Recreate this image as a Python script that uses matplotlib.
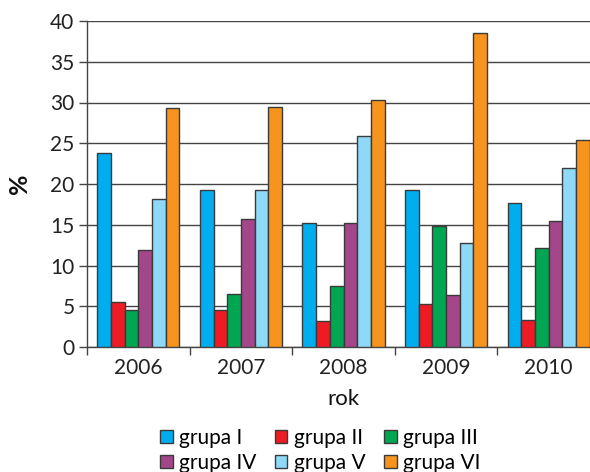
import matplotlib
matplotlib.use("Agg")
import matplotlib.pyplot as plt
import numpy as np

years = ["2006", "2007", "2008", "2009", "2010"]
groups = ["grupa I", "grupa II", "grupa III", "grupa IV", "grupa V", "grupa VI"]
grupa_I = [23.8, 19.3, 15.2, 19.3, 17.7]
grupa_II = [5.5, 4.6, 3.2, 5.3, 3.3]
grupa_III = [4.5, 6.5, 7.5, 14.9, 12.1]
grupa_IV = [11.9, 15.7, 15.2, 6.4, 15.5]
grupa_V = [18.2, 19.3, 25.9, 12.8, 22.0]
grupa_VI = [29.3, 29.5, 30.3, 38.5, 25.4]
series = [grupa_I, grupa_II, grupa_III, grupa_IV, grupa_V, grupa_VI]
colors = ["#00AEEF", "#ED1C24", "#00A651", "#A3478A", "#8ED8F8", "#F7941D"]
yticks = [0, 5, 10, 15, 20, 25, 30, 35, 40]

plt.rcParams['font.family'] = ['Lato', 'DejaVu Sans']
fig = plt.figure(figsize=(5.9, 4.72), dpi=100)
ax = fig.add_axes([87/590, 1-347/472, 513/590, 326/472])

n = len(series)
width = 0.8 / n
x = np.arange(len(years))
handles = []
for i, (vals, c, g) in enumerate(zip(series, colors, groups)):
    b = ax.bar(x - 0.4 + width*(i+0.5), vals, width, color=c, edgecolor="#3a3a3a",
               linewidth=1.0, label=g, zorder=3)
    handles.append(b)

ax.set_xlim(-0.5, len(years)-0.5)
ax.set_ylim(0, 40)
ax.set_yticks(yticks)
ax.set_yticklabels([str(t) for t in yticks], fontsize=15, color="#222222")
ax.set_xticks(x)
ax.set_xticklabels(years, fontsize=15, color="#222222")
ax.tick_params(axis='x', length=0, pad=8)
ax.set_xticks(np.arange(-0.5, len(years)), minor=True)
ax.tick_params(axis='x', which='minor', length=6, width=1, color="#444444", direction='out')
ax.tick_params(axis='y', length=6, width=1, color="#444444", direction='out', pad=3)
ax.yaxis.grid(True, color="#444444", linewidth=1.0, zorder=0)
ax.set_axisbelow(True)
for s in ["top", "right"]:
    ax.spines[s].set_visible(False)
ax.spines["left"].set_color("#444444")
ax.spines["bottom"].set_color("#444444")
ax.spines["left"].set_linewidth(1.0)
ax.spines["bottom"].set_linewidth(1.0)

ax.set_ylabel("%", fontsize=18, fontweight="bold", color="#111111", labelpad=14)
ax.set_xlabel("rok", fontsize=16, color="#111111", labelpad=8)

order = [0, 3, 1, 4, 2, 5]
leg = fig.legend([handles[i] for i in order], [groups[i] for i in order], ncol=3,
                 loc="upper left", bbox_to_anchor=(160/590, 1-428/472), frameon=False,
                 fontsize=15, handlelength=0.6, handleheight=0.6, handletextpad=0.3,
                 columnspacing=0.9, labelspacing=0.25, borderpad=0, borderaxespad=0)
fig.savefig("out.png", dpi=100)
